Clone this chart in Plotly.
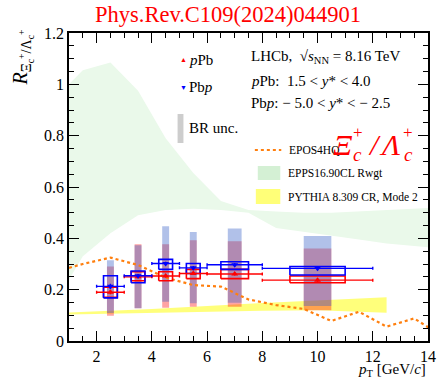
import plotly.graph_objects as go

# ---------------- data ----------------
bin_lo = [2, 3, 4, 5, 6, 8]
bin_hi = [3, 4, 5, 6, 8, 12]
pt_c = [2.5, 3.5, 4.5, 5.5, 7.0, 10.0]

ppb_val = [0.190, 0.250, 0.253, 0.263, 0.261, 0.237]
ppb_stat = [0.008, 0.006, 0.006, 0.006, 0.006, 0.006]
ppb_sys_lo = [0.170, 0.235, 0.235, 0.243, 0.243, 0.227]
ppb_sys_hi = [0.210, 0.270, 0.270, 0.279, 0.279, 0.253]
ppb_br_lo = [0.098, 0.128, 0.130, 0.133, 0.133, 0.120]
ppb_br_hi = [0.290, 0.377, 0.377, 0.393, 0.389, 0.360]

pbp_val = [0.213, 0.254, 0.302, 0.285, 0.297, 0.283]
pbp_stat = [0.010, 0.007, 0.007, 0.007, 0.007, 0.008]
pbp_sys_lo = [0.168, 0.227, 0.279, 0.263, 0.279, 0.257]
pbp_sys_hi = [0.254, 0.273, 0.318, 0.302, 0.309, 0.290]
pbp_br_lo = [0.109, 0.128, 0.153, 0.147, 0.149, 0.136]
pbp_br_hi = [0.315, 0.373, 0.447, 0.425, 0.438, 0.409]

epos_x = [1.0, 1.5, 2.5, 3.5, 4.5, 5.5, 6.5, 7.5, 8.5, 9.5, 10.5, 11.5, 12.5, 13.5, 14.5]
epos_y = [0.285, 0.300, 0.325, 0.296, 0.247, 0.218, 0.212, 0.162, 0.140, 0.125, 0.078, 0.114, 0.056, 0.088, 0.020]

epps_x = [1.0, 1.5, 2.5, 3.5, 4.5, 5.5, 6.5, 7.5, 8.5, 9.5, 10.5, 11.5, 12.5, 13.5, 14.0]
epps_hi = [1.000, 1.055, 1.085, 0.975, 0.790, 0.655, 0.545, 0.510, 0.505, 0.500, 0.500, 0.505, 0.510, 0.515, 0.518]
epps_lo = [0.240, 0.330, 0.420, 0.490, 0.510, 0.515, 0.510, 0.500, 0.440, 0.425, 0.410, 0.395, 0.380, 0.370, 0.365]

pyth_x = [1.0, 4.0, 8.0, 10.0, 12.5]
pyth_lo = [0.103, 0.108, 0.118, 0.120, 0.110]
pyth_hi = [0.111, 0.125, 0.148, 0.158, 0.170]

RED = "#ff0000"
BLUE = "#0000ff"
SERIF = '"Liberation Serif", "Times New Roman", "DejaVu Serif", serif'


def rects(xc, half, lo, hi):
    xs, ys = [], []
    for c, h, a, b in zip(xc, half, lo, hi):
        xs += [c - h, c + h, c + h, c - h, c - h, None]
        ys += [a, a, b, b, a, None]
    return xs, ys


widths = [h - l for l, h in zip(bin_lo, bin_hi)]
xerr = [w / 2 for w in widths]
box_half = [w / 4 for w in widths]
br_half = [w / 8 for w in widths]

fig = go.Figure()

# EPPS16 band
fig.add_trace(go.Scatter(
    x=epps_x + epps_x[::-1], y=epps_hi + epps_lo[::-1], fill="toself", mode="lines",
    line=dict(width=0), fillcolor="rgb(234,249,234)", hoverinfo="skip", showlegend=False))
# PYTHIA band
fig.add_trace(go.Scatter(
    x=pyth_x + pyth_x[::-1], y=pyth_hi + pyth_lo[::-1], fill="toself", mode="lines",
    line=dict(width=0), fillcolor="rgba(255,255,90,0.8)", hoverinfo="skip", showlegend=False))

# BR uncertainty bands
bx, by = rects(pt_c, br_half, ppb_br_lo, ppb_br_hi)
fig.add_trace(go.Scatter(x=bx, y=by, fill="toself", mode="lines", line=dict(width=0),
                         fillcolor="rgba(255,0,0,0.36)", hoverinfo="skip", showlegend=False))
bx, by = rects(pt_c, br_half, pbp_br_lo, pbp_br_hi)
fig.add_trace(go.Scatter(x=bx, y=by, fill="toself", mode="lines", line=dict(width=0),
                         fillcolor="rgba(60,100,200,0.40)", hoverinfo="skip", showlegend=False))

# EPOS4HQ
fig.add_trace(go.Scatter(x=epos_x, y=epos_y, mode="lines",
                         line=dict(color="#ff7f0e", width=2.2, dash="dot"),
                         hoverinfo="skip", showlegend=False))

# systematic boxes
bx, by = rects(pt_c, box_half, ppb_sys_lo, ppb_sys_hi)
fig.add_trace(go.Scatter(x=bx, y=by, mode="lines", line=dict(color=RED, width=1.6),
                         hoverinfo="skip", showlegend=False))
bx, by = rects(pt_c, box_half, pbp_sys_lo, pbp_sys_hi)
fig.add_trace(go.Scatter(x=bx, y=by, mode="lines", line=dict(color=BLUE, width=1.6),
                         hoverinfo="skip", showlegend=False))

# data points
fig.add_trace(go.Scatter(
    x=pt_c, y=ppb_val, mode="markers",
    marker=dict(symbol="triangle-up", color=RED, size=6),
    error_x=dict(type="data", array=xerr, color=RED, thickness=1.4, width=1.5),
    error_y=dict(type="data", array=ppb_stat, color=RED, thickness=1.4, width=0),
    showlegend=False))
fig.add_trace(go.Scatter(
    x=pt_c, y=pbp_val, mode="markers",
    marker=dict(symbol="triangle-down", color=BLUE, size=6),
    error_x=dict(type="data", array=xerr, color=BLUE, thickness=1.4, width=1.5),
    error_y=dict(type="data", array=pbp_stat, color=BLUE, thickness=1.4, width=0),
    showlegend=False))

# ------------- layout helpers (page pixel -> paper) -------------
W, H = 443, 380
L, R, T, B = 69, 436, 33, 341


def px(p):
    return (p - L) / (R - L)


def py(p):
    return (B - p) / (B - T)


ann = []


def text(x, y, s, size=15, color="black", xanchor="left", yanchor="middle", angle=0):
    ann.append(dict(x=px(x), y=py(y), xref="paper", yref="paper", text=s, showarrow=False,
                    xanchor=xanchor, yanchor=yanchor, textangle=angle,
                    font=dict(family=SERIF, size=size, color=color)))


text(232, 15, "Phys.Rev.C109(2024)044901", size=22.5, color=RED, xanchor="center")
text(253, 57, "LHCb,  √<i>s</i><sub>NN</sub> = 8.16 TeV", size=15)
text(253, 81, "<i>p</i>Pb:  1.5 &lt; <i>y</i>* &lt; 4.0", size=15)
text(253, 103, "Pb<i>p</i>: − 5.0 &lt; <i>y</i>* &lt; − 2.5", size=15)

text(186, 60, "▲", size=7, color=RED, xanchor="center")
text(190, 60, "<i>p</i>Pb", size=15)
text(186, 88, "▼", size=7, color=BLUE, xanchor="center")
text(190, 87, "Pb<i>p</i>", size=15)
text(190, 128, "BR unc.", size=15)

text(292, 150, "EPOS4HQ", size=11.5)
text(291, 173, "EPPS16.90CL Rwgt", size=11.5)
text(291, 197, "PYTHIA 8.309 CR, Mode 2", size=11.5)

# big ratio label
text(349, 144, "<i>Ξ</i>", size=30, color=RED, xanchor="center")
text(364, 132, "+", size=17, color=RED, xanchor="center")
text(364, 154, "<i>c</i>", size=19, color=RED, xanchor="center")
text(381, 144, "<i>/</i>", size=30, color=RED, xanchor="center")
text(397, 144, "<i>Λ</i>", size=30, color=RED, xanchor="center")
text(416, 132, "+", size=17, color=RED, xanchor="center")
text(416, 154, "<i>c</i>", size=19, color=RED, xanchor="center")

# axis titles
text(21, 27, "<i>R</i><sub>Ξ<sub>c</sub><sup>+</sup>/Λ<sub>c</sub><sup>+</sup></sub>", size=20,
     xanchor="center", yanchor="top", angle=-90)
text(436, 370, "<i>p</i><sub>T</sub> [GeV/<i>c</i>]", size=15, xanchor="right")

shapes = [
    dict(type="rect", xref="paper", yref="paper", x0=px(180), x1=px(186), y0=py(143), y1=py(114),
         fillcolor="rgb(205,205,205)", line=dict(width=0)),
    dict(type="line", xref="paper", yref="paper", x0=px(259), x1=px(286), y0=py(150), y1=py(150),
         line=dict(color="#ff7f0e", width=2.2, dash="dot")),
    dict(type="rect", xref="paper", yref="paper", x0=px(262), x1=px(285), y0=py(180), y1=py(166),
         fillcolor="rgb(212,240,212)", line=dict(width=0)),
    dict(type="rect", xref="paper", yref="paper", x0=px(260), x1=px(285), y0=py(204), y1=py(189),
         fillcolor="rgb(255,255,120)", line=dict(width=0)),
]

axis_common = dict(showline=True, linecolor="black", linewidth=1.6, mirror="ticks",
                   ticks="inside", tickcolor="black", showgrid=False, zeroline=False,
                   tickfont=dict(family=SERIF, size=16, color="black"))

fig.update_layout(
    width=W, height=H,
    margin=dict(l=L, r=W - R, t=T, b=H - B),
    paper_bgcolor="white", plot_bgcolor="white",
    showlegend=False,
    annotations=ann, shapes=shapes,
    xaxis=dict(range=[1, 14], dtick=2, tick0=0, ticklen=10, tickwidth=1.3,
               minor=dict(dtick=0.5, ticklen=5, ticks="inside", tickcolor="black", tickwidth=1),
               **axis_common),
    yaxis=dict(range=[0, 1.2], dtick=0.2, ticklen=10, tickwidth=1.3,
               minor=dict(dtick=0.05, ticklen=5, ticks="inside", tickcolor="black", tickwidth=1),
               **axis_common),
)

fig.write_html("out.html", config={"displayModeBar": False},
               post_script="document.body.style.margin='0px';document.body.style.overflow='hidden';")
